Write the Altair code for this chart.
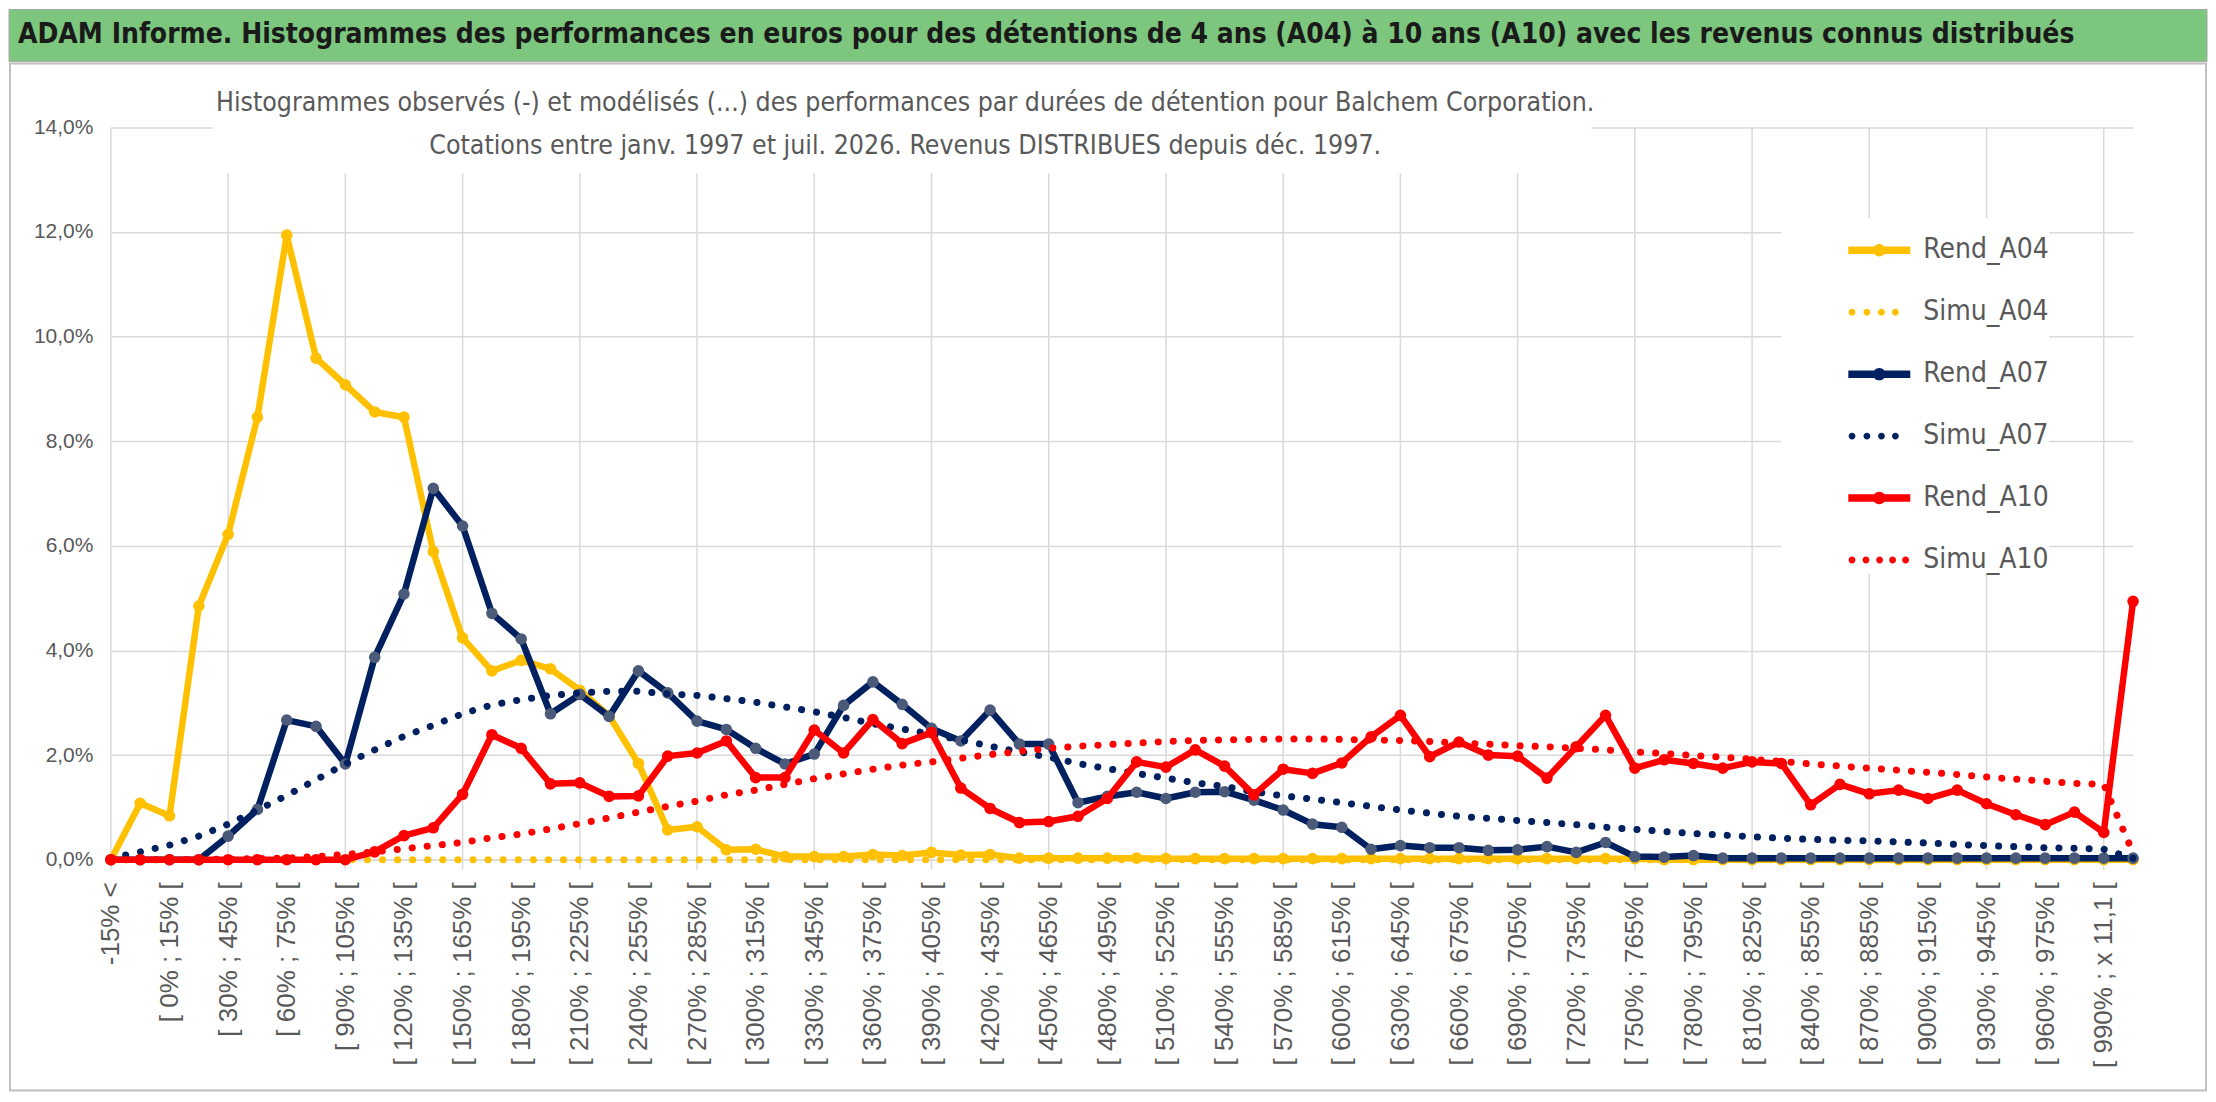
"""Histogrammes des performances ADAM (Balchem Corporation) en Altair."""

import altair as alt
import pandas as pd


JAUNE = "#FFC000"
MARINE = "#002060"
ARDOISE = "#4B5A78"
ROUGE = "#FF0000"
GRIS_TEXTE = "#595959"
GRIS_GRILLE = "#D9D9D9"
VERT_BANDEAU = "#7CC67E"

POLICE_ETROITE = "Liberation Sans Narrow, DejaVu Sans Condensed, Liberation Sans, sans-serif"
POLICE = "Liberation Sans, Arial, sans-serif"

TITRE = (
    "ADAM Informe. Histogrammes des performances en euros pour des détentions "
    "de 4 ans (A04) à 10 ans (A10) avec les revenus connus distribués"
)
SOUS_TITRE_1 = (
    "Histogrammes observés (-) et modélisés (...) des performances  par durées "
    "de détention pour Balchem Corporation."
)
SOUS_TITRE_2 = "Cotations entre janv. 1997 et juil. 2026. Revenus DISTRIBUES depuis déc. 1997."

CLASSES = (
    ["-15% <", "[ -15% ; 0% ["]
    + [f"[ {a}% ; {a + 15}% [" for a in range(0, 990, 15)]
    + ["[ 990% ; x 11,1 [", "x 11,1 <"]
)

SERIES = ["Rend_A04", "Simu_A04", "Rend_A07", "Simu_A07", "Rend_A10", "Simu_A10"]

# valeurs en %
rend_a04 = [
    0.00, 1.08, 0.84, 4.85, 6.22, 8.46, 11.94, 9.59, 9.08, 8.56,
    8.46, 5.89, 4.24, 3.61, 3.81, 3.65, 3.24, 2.75, 1.84, 0.57,
    0.63, 0.19, 0.20, 0.06, 0.06, 0.06, 0.10, 0.08, 0.14, 0.09,
    0.10, 0.03, 0.03, 0.03, 0.03, 0.03, 0.02, 0.02, 0.02, 0.02,
    0.02, 0.02, 0.02, 0.02, 0.02, 0.02, 0.02, 0.02, 0.02, 0.02,
    0.02, 0.02, 0.02, 0.00, 0.00, 0.00, 0.00, 0.00, 0.00, 0.00,
    0.00, 0.00, 0.00, 0.00, 0.00, 0.00, 0.00, 0.00, 0.00, 0.00,
]
simu_a04 = [
    0.00, 0.00, 0.00, 0.00, 0.00, 0.00, 0.00, 0.00, 0.00, 0.00,
    0.00, 0.00, 0.00, 0.00, 0.00, 0.00, 0.00, 0.00, 0.00, 0.00,
    0.00, 0.00, 0.00, 0.00, 0.00, 0.00, 0.00, 0.00, 0.00, 0.00,
    0.00, 0.00, 0.00, 0.00, 0.00, 0.00, 0.00, 0.00, 0.00, 0.00,
    0.00, 0.00, 0.00, 0.00, 0.00, 0.00, 0.00, 0.00, 0.00, 0.00,
    0.00, 0.00, 0.00, 0.00, 0.00, 0.00, 0.00, 0.00, 0.00, 0.00,
    0.00, 0.00, 0.00, 0.00, 0.00, 0.00, 0.00, 0.00, 0.00, 0.00,
]
rend_a07 = [
    0.00, 0.00, 0.00, 0.00, 0.45, 0.96, 2.67, 2.55, 1.83, 3.87,
    5.08, 7.10, 6.38, 4.71, 4.22, 2.79, 3.16, 2.74, 3.61, 3.19,
    2.65, 2.49, 2.13, 1.83, 2.02, 2.95, 3.40, 2.97, 2.51, 2.27,
    2.86, 2.21, 2.21, 1.09, 1.21, 1.29, 1.17, 1.29, 1.30, 1.14,
    0.95, 0.68, 0.62, 0.20, 0.27, 0.23, 0.23, 0.18, 0.19, 0.25,
    0.14, 0.33, 0.06, 0.05, 0.08, 0.03, 0.03, 0.03, 0.03, 0.03,
    0.03, 0.03, 0.03, 0.03, 0.03, 0.03, 0.03, 0.03, 0.03, 0.03,
]
simu_a07 = [
    0.03, 0.15, 0.28, 0.45, 0.68, 0.95, 1.23, 1.53, 1.83, 2.10,
    2.36, 2.57, 2.79, 2.96, 3.06, 3.14, 3.19, 3.22, 3.22, 3.17,
    3.14, 3.08, 3.01, 2.92, 2.83, 2.72, 2.60, 2.50, 2.40, 2.29,
    2.17, 2.06, 1.96, 1.84, 1.74, 1.65, 1.56, 1.47, 1.40, 1.30,
    1.22, 1.16, 1.09, 1.02, 0.95, 0.89, 0.83, 0.79, 0.75, 0.71,
    0.67, 0.62, 0.58, 0.54, 0.50, 0.47, 0.44, 0.41, 0.39, 0.37,
    0.36, 0.34, 0.32, 0.29, 0.27, 0.25, 0.23, 0.22, 0.20, 0.03,
]
rend_a10 = [
    0.00, 0.00, 0.00, 0.00, 0.00, 0.00, 0.00, 0.00, 0.00, 0.15,
    0.46, 0.61, 1.25, 2.39, 2.13, 1.45, 1.47, 1.21, 1.22, 1.98,
    2.04, 2.27, 1.57, 1.57, 2.48, 2.04, 2.68, 2.22, 2.43, 1.37,
    0.98, 0.71, 0.73, 0.83, 1.17, 1.87, 1.77, 2.10, 1.79, 1.24,
    1.73, 1.65, 1.85, 2.35, 2.76, 1.97, 2.25, 2.00, 1.98, 1.56,
    2.16, 2.76, 1.75, 1.91, 1.84, 1.75, 1.87, 1.84, 1.05, 1.44,
    1.26, 1.33, 1.17, 1.33, 1.07, 0.86, 0.67, 0.91, 0.52, 4.94,
]
simu_a10 = [
    0.00, 0.00, 0.00, 0.01, 0.01, 0.02, 0.03, 0.06, 0.10, 0.15,
    0.21, 0.27, 0.33, 0.42, 0.49, 0.59, 0.69, 0.80, 0.91, 1.02,
    1.12, 1.24, 1.33, 1.44, 1.55, 1.64, 1.73, 1.81, 1.87, 1.94,
    2.01, 2.07, 2.13, 2.17, 2.20, 2.23, 2.26, 2.28, 2.29, 2.30,
    2.31, 2.31, 2.30, 2.29, 2.28, 2.26, 2.23, 2.21, 2.18, 2.16,
    2.13, 2.10, 2.06, 2.03, 1.99, 1.96, 1.92, 1.88, 1.83, 1.79,
    1.75, 1.71, 1.67, 1.63, 1.58, 1.54, 1.50, 1.46, 1.44, 0.13,
]

VALEURS = {
    "Rend_A04": rend_a04,
    "Simu_A04": simu_a04,
    "Rend_A07": rend_a07,
    "Simu_A07": simu_a07,
    "Rend_A10": rend_a10,
    "Simu_A10": simu_a10,
}
COULEURS = [JAUNE, JAUNE, MARINE, MARINE, ROUGE, ROUGE]
MARQUEURS = {"Rend_A04": JAUNE, "Rend_A07": ARDOISE, "Rend_A10": ROUGE}

LARGEUR, HAUTEUR = 2024, 733


def _disque(cx, r):
    """Petit cercle en chemin SVG (repère [-1, 1])."""
    return f"M{cx + r:.2f},0A{r},{r} 0 1,1 {cx - r:.2f},0A{r},{r} 0 1,1 {cx + r:.2f},0Z"


TRAIT_POINT = "M-1,-0.12H1V0.12H-1Z" + _disque(0, 0.2)
POINTILLE_4 = "".join(_disque(c, 0.11) for c in (-0.88, -0.4, 0.07, 0.52))
POINTILLE_5 = "".join(_disque(c, 0.11) for c in (-0.88, -0.43, 0.01, 0.43, 0.85))
FORMES = [TRAIT_POINT, POINTILLE_4, TRAIT_POINT, POINTILLE_4, TRAIT_POINT, POINTILLE_5]


df = pd.DataFrame(
    [
        {"classe": c, "serie": s, "valeur": v}
        for s in SERIES
        for c, v in zip(CLASSES, VALEURS[s])
    ]
)
une_ligne = pd.DataFrame({"a": [0]})

axe_x = alt.X(
    "classe:N",
    scale=alt.Scale(domain=CLASSES, type="point", padding=0),
    axis=alt.Axis(
        values=CLASSES[::2],
        labelAngle=-90,
        labelFontSize=26,
        labelFont=POLICE,
        labelColor=GRIS_TEXTE,
        labelPadding=22,
        labelOverlap=False,
        labelLimit=400,
        ticks=False,
        grid=False,
        domainColor=GRIS_GRILLE,
        domainWidth=1.5,
    ),
    title=None,
)
axe_y = alt.Y(
    "valeur:Q",
    scale=alt.Scale(domain=[0, 14], nice=False),
    axis=alt.Axis(
        values=[0, 2, 4, 6, 8, 10, 12, 14],
        labelExpr="replace(format(datum.value, '.1f'), '.', ',') + '%'",
        labelFontSize=21,
        labelFont=POLICE,
        labelColor=GRIS_TEXTE,
        labelPadding=18,
        ticks=False,
        domain=False,
        gridColor=GRIS_GRILLE,
        gridWidth=1.5,
        minExtent=102,
    ),
    title=None,
)

# bandeau vert du titre général
bandeau = alt.Chart(une_ligne).mark_rect(color=VERT_BANDEAU, stroke="#A6A6A6", strokeWidth=1).encode(
    x=alt.value(-102), x2=alt.value(2098), y=alt.value(-118), y2=alt.value(-66)
)
titre = alt.Chart(pd.DataFrame({"t": [TITRE]})).mark_text(
    align="left", baseline="middle", fontSize=28, fontWeight="bold", font=POLICE_ETROITE, color="#1A1A1A"
).encode(text="t:N", x=alt.value(-93), y=alt.value(-92))

# cadre gris de la zone du graphique
cadre_zone = alt.Chart(une_ligne).mark_rect(
    fill="white", fillOpacity=0, stroke="#BFBFBF", strokeWidth=2
).encode(x=alt.value(-101), x2=alt.value(2097), y=alt.value(-64), y2=alt.value(964))

# quadrillage vertical toutes les 4 classes
grille = alt.Chart(pd.DataFrame({"classe": CLASSES[::4]})).mark_rule(
    color=GRIS_GRILLE, strokeWidth=1.5
).encode(x=axe_x, y=alt.value(0), y2=alt.value(HAUTEUR + 10))

# cadre blanc du sous-titre
cadre_titre = alt.Chart(une_ligne).mark_rect(color="white").encode(
    x=alt.value(102), x2=alt.value(1482), y=alt.value(-52), y2=alt.value(46)
)

sous_titres = [
    alt.Chart(pd.DataFrame({"t": [texte]})).mark_text(
        align="center", baseline="middle", fontSize=26.5, font=POLICE_ETROITE, color=GRIS_TEXTE
    ).encode(text="t:N", x=alt.value(795), y=alt.value(pos))
    for texte, pos in [(SOUS_TITRE_1, -24), (SOUS_TITRE_2, 19)]
]

couches = []
for serie, couleur in zip(SERIES, COULEURS):
    base = alt.Chart(df).transform_filter(alt.datum.serie == serie)
    if serie.startswith("Rend"):
        couches.append(
            base.mark_line(color=couleur, strokeWidth=6.5, strokeJoin="round", strokeCap="round")
            .encode(x=axe_x, y=axe_y)
        )
        couches.append(
            base.mark_point(filled=True, size=135, opacity=1, color=MARQUEURS[serie])
            .encode(x=axe_x, y=axe_y)
        )
    else:
        couches.append(
            base.mark_line(color=couleur, strokeWidth=7, strokeDash=[0.1, 15], strokeCap="round")
            .encode(x=axe_x, y=axe_y)
        )

legende = alt.Legend(
    title=None,
    orient="none",
    legendX=1672,
    legendY=91,
    fillColor="white",
    padding=0,
    symbolOffset=66,
    symbolSize=3844,
    labelOffset=12,
    rowPadding=16,
    labelFontSize=28,
    labelFont=POLICE_ETROITE,
    labelColor=GRIS_TEXTE,
    labelExpr="datum.label + '         '",
    symbolOpacity=1,
)
df_legende = pd.DataFrame({"serie": SERIES, "classe": CLASSES[0], "valeur": 0.0})
couche_legende = alt.Chart(df_legende).mark_point(filled=True, size=3844, opacity=0).encode(
    x=axe_x,
    y=axe_y,
    color=alt.Color("serie:N", scale=alt.Scale(domain=SERIES, range=COULEURS), legend=legende),
    shape=alt.Shape("serie:N", scale=alt.Scale(domain=SERIES, range=FORMES), legend=legende),
)

chart = (
    alt.layer(
        cadre_zone, bandeau, titre, grille, cadre_titre, *sous_titres, *couches, couche_legende
    )
    .properties(width=LARGEUR, height=HAUTEUR, padding=0, background="white")
    .configure_view(stroke=None)
)

chart.save("out.html", embed_options={"renderer": "svg", "actions": False})
